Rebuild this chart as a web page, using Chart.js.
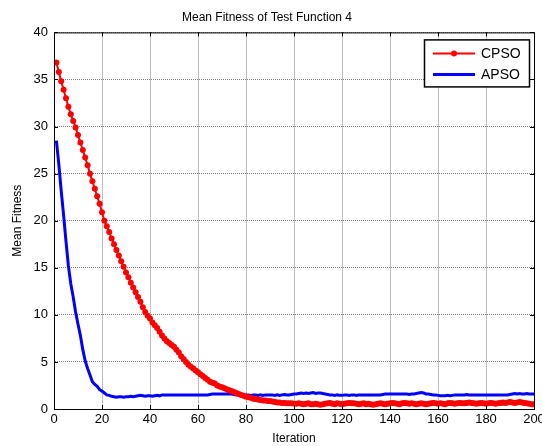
<!DOCTYPE html>
<html>
<head>
<meta charset="utf-8">
<script src="https://cdn.jsdelivr.net/npm/chart.js@4"></script>
<style>
  html, body { margin: 0; padding: 0; background: #fff; }
  #wrap { width: 542px; height: 446px; }
</style>
</head>
<body>
<div id="wrap"><canvas id="myChart" width="542" height="446"></canvas></div>
<script>
const titleText = "Mean Fitness of Test Function 4";
const xTitle = "Iteration";
const yTitle = "Mean Fitness";
const seriesNames = ["CPSO", "APSO"];
const xTicks = [0, 20, 40, 60, 80, 100, 120, 140, 160, 180, 200];
const yTicks = [0, 5, 10, 15, 20, 25, 30, 35, 40];

// values, iteration 1..200
const cpso = [
  36.8, 35.8, 34.8, 33.9, 33.0, 32.1, 31.3, 30.6, 29.9, 29.1,
  28.3, 27.5, 26.7, 25.9, 25.0, 24.2, 23.4, 22.6, 21.8, 20.9,
  20.0, 19.4, 18.8, 18.1, 17.5, 16.9, 16.3, 15.7, 15.1, 14.5,
  14.0, 13.4, 12.9, 12.4, 11.9, 11.4, 10.8, 10.3, 9.9, 9.6,
  9.2, 8.9, 8.6, 8.2, 7.8, 7.5, 7.2, 7.0, 6.8, 6.6,
  6.3, 6.0, 5.6, 5.3, 5.0, 4.7, 4.5, 4.3, 4.1, 3.9,
  3.7, 3.5, 3.3, 3.1, 2.9, 2.8, 2.7, 2.5, 2.4, 2.3,
  2.2, 2.1, 2.0, 1.9, 1.8, 1.7, 1.6, 1.5, 1.4, 1.3,
  1.25, 1.2, 1.1, 1.05, 1.0, 0.95, 0.9, 0.9, 0.85, 0.85,
  0.8, 0.75, 0.7, 0.7, 0.65, 0.65, 0.6, 0.6, 0.6, 0.55,
  0.55, 0.6, 0.55, 0.5, 0.55, 0.6, 0.5, 0.5, 0.55, 0.5,
  0.45, 0.5, 0.55, 0.6, 0.65, 0.55, 0.5, 0.6, 0.55, 0.5,
  0.55, 0.6, 0.65, 0.6, 0.6, 0.55, 0.5, 0.55, 0.6, 0.5,
  0.55, 0.5, 0.45, 0.5, 0.55, 0.6, 0.55, 0.5, 0.55, 0.6,
  0.65, 0.6, 0.55, 0.5, 0.6, 0.65, 0.6, 0.55, 0.6, 0.55,
  0.5, 0.55, 0.6, 0.55, 0.5, 0.55, 0.6, 0.65, 0.6, 0.55,
  0.6, 0.55, 0.5, 0.6, 0.65, 0.6, 0.55, 0.6, 0.65, 0.6,
  0.6, 0.65, 0.7, 0.65, 0.6, 0.55, 0.6, 0.65, 0.6, 0.55,
  0.6, 0.65, 0.6, 0.55, 0.6, 0.65, 0.7, 0.65, 0.7, 0.75,
  0.7, 0.65, 0.7, 0.75, 0.7, 0.65, 0.6, 0.55, 0.5, 0.5
];
const apso = [
  28.5, 26.0, 23.2, 20.6, 17.8, 15.2, 13.3, 11.9, 10.3, 9.0,
  7.8, 6.3, 5.1, 4.3, 3.6, 2.9, 2.6, 2.4, 2.05, 1.9,
  1.7, 1.5, 1.45, 1.35, 1.3, 1.25, 1.3, 1.3, 1.25, 1.3,
  1.3, 1.35, 1.3, 1.35, 1.4, 1.45, 1.4, 1.35, 1.4, 1.4,
  1.35, 1.4, 1.45, 1.4, 1.5, 1.5, 1.5, 1.5, 1.5, 1.5,
  1.5, 1.5, 1.5, 1.5, 1.5, 1.5, 1.5, 1.5, 1.5, 1.5,
  1.5, 1.5, 1.5, 1.5, 1.55, 1.6, 1.6, 1.6, 1.6, 1.6,
  1.6, 1.6, 1.6, 1.6, 1.55, 1.5, 1.5, 1.5, 1.5, 1.5,
  1.5, 1.45, 1.5, 1.5, 1.45, 1.5, 1.45, 1.5, 1.5, 1.5,
  1.5, 1.45, 1.5, 1.45, 1.5, 1.55, 1.5, 1.5, 1.55, 1.6,
  1.6, 1.65, 1.7, 1.65, 1.7, 1.65, 1.7, 1.75, 1.65, 1.7,
  1.7, 1.65, 1.6, 1.55, 1.5, 1.5, 1.45, 1.5, 1.45, 1.45,
  1.5, 1.5, 1.45, 1.5, 1.5, 1.45, 1.5, 1.5, 1.5, 1.5,
  1.5, 1.5, 1.5, 1.5, 1.5, 1.5, 1.55, 1.6, 1.6, 1.6,
  1.6, 1.6, 1.6, 1.6, 1.6, 1.6, 1.6, 1.55, 1.6, 1.6,
  1.65, 1.7, 1.75, 1.7, 1.6, 1.6, 1.55, 1.5, 1.5, 1.45,
  1.4, 1.4, 1.4, 1.45, 1.4, 1.45, 1.5, 1.5, 1.5, 1.5,
  1.5, 1.55, 1.5, 1.5, 1.5, 1.5, 1.5, 1.5, 1.5, 1.5,
  1.5, 1.5, 1.5, 1.5, 1.5, 1.5, 1.5, 1.5, 1.5, 1.55,
  1.6, 1.65, 1.6, 1.65, 1.6, 1.6, 1.65, 1.6, 1.6, 1.6
];
const iterations = cpso.map((v, i) => i + 1);

const font = "'Liberation Sans', Arial, Helvetica, sans-serif";

//box round the plot, inward ticks and the boxed legend like matlab draws them
const matlabFrame = {
  id: "matlabFrame",
  afterDraw(chart) {
    const c = chart.ctx;
    const a = chart.chartArea;
    const xs = chart.scales.x;
    const ys = chart.scales.y;
    c.save();
    c.strokeStyle = "#000";
    c.lineWidth = 1;
    c.strokeRect(a.left + 0.5, a.top + 0.5, a.right - a.left, a.bottom - a.top);
    c.beginPath();
    xTicks.forEach((t) => {
      const px = Math.round(xs.getPixelForValue(t)) + 0.5;
      c.moveTo(px, a.bottom); c.lineTo(px, a.bottom - 4);
      c.moveTo(px, a.top); c.lineTo(px, a.top + 4);
    });
    yTicks.forEach((t) => {
      const py = Math.round(ys.getPixelForValue(t)) + 0.5;
      c.moveTo(a.left, py); c.lineTo(a.left + 4, py);
      c.moveTo(a.right, py); c.lineTo(a.right - 4, py);
    });
    c.stroke();

    // legend
    const lx = a.right - 110, ly = a.top + 7, lw = 105, lh = 47;
    c.fillStyle = "#fff";
    c.fillRect(lx, ly, lw, lh);
    c.lineWidth = 1.5;
    c.strokeRect(lx + 0.5, ly + 0.5, lw, lh);
    c.font = "14px " + font;
    c.textBaseline = "middle";
    chart.data.datasets.forEach((ds, i) => {
      const y = ly + 14 + i * 21;
      c.strokeStyle = ds.borderColor;
      c.lineWidth = ds.borderWidth;
      c.beginPath();
      c.moveTo(lx + 9, y); c.lineTo(lx + 51, y);
      c.stroke();
      if (ds.pointRadius > 0) {
        c.fillStyle = ds.borderColor;
        c.beginPath();
        c.arc(lx + 30, y, ds.pointRadius, 0, Math.PI * 2);
        c.fill();
      }
      c.fillStyle = "#000";
      c.fillText(ds.label, lx + 57, y + 1);
    });
    c.restore();
  },
};

const ctx = document.getElementById("myChart");
const myChart = new Chart(ctx, {
  type: "line",
  data: {
    datasets: [
      {
        label: seriesNames[0],
        data: iterations.map((x, i) => ({ x: x, y: cpso[i] })),
        borderColor: "#ff0000",
        backgroundColor: "#ff0000",
        borderWidth: 2,
        pointRadius: 3,
        pointBorderWidth: 0,
        tension: 0,
      },
      {
        label: seriesNames[1],
        data: iterations.map((x, i) => ({ x: x, y: apso[i] })),
        borderColor: "#0000ff",
        backgroundColor: "#0000ff",
        borderWidth: 3,
        pointRadius: 0,
        tension: 0,
      },
    ],
  },
  plugins: [matlabFrame],
  options: {
    responsive: false,
    animation: false,
    layout: { padding: { top: 0, right: 8, left: 0, bottom: 0 } },
    plugins: {
      legend: { display: false },
      tooltip: { enabled: false },
      title: {
        display: true,
        text: titleText,
        color: "#000",
        font: { family: font, size: 12, weight: "normal" },
        padding: { top: 10, bottom: 8 },
      },
    },
    scales: {
      x: {
        type: "linear",
        min: 0,
        max: 200,
        afterBuildTicks: (s) => { s.ticks = xTicks.map((v) => ({ value: v })); },
        afterFit: (s) => { s.height = 37; s.paddingLeft = 0; s.paddingRight = 0; },
        ticks: { color: "#000", font: { family: font, size: 13 }, padding: 3, maxRotation: 0 },
        grid: { color: "rgba(0,0,0,0.5)", lineWidth: 1, drawTicks: false },
        border: { display: true, color: "#000", dash: [1, 1] },
        title: {
          display: true,
          text: xTitle,
          color: "#000",
          font: { family: font, size: 12 },
          padding: { top: 0, bottom: 0 },
        },
      },
      y: {
        min: 0,
        max: 40,
        afterBuildTicks: (s) => { s.ticks = yTicks.map((v) => ({ value: v })); },
        afterFit: (s) => { s.width = 54; s.paddingTop = 0; s.paddingBottom = 0; },
        ticks: { color: "#000", font: { family: font, size: 13 }, padding: 6 },
        grid: { color: "rgba(0,0,0,0.5)", lineWidth: 1, drawTicks: false },
        border: { display: true, color: "#000", dash: [1, 1] },
        title: {
          display: true,
          text: yTitle,
          color: "#000",
          font: { family: font, size: 12 },
          padding: { top: 10, bottom: 6 },
        },
      },
    },
  },
});
</script>
</body>
</html>
